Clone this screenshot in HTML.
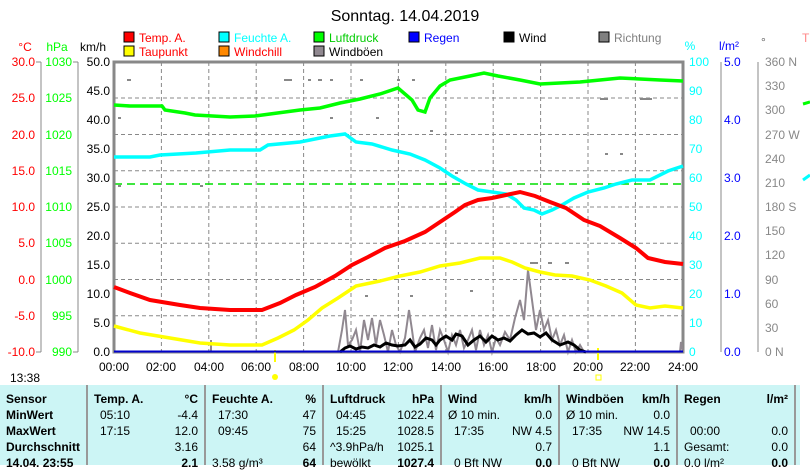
<!DOCTYPE html>
<html><head><meta charset="utf-8"><style>
body{margin:0;background:#fff;width:810px;height:465px;overflow:hidden;font-family:"Liberation Sans",sans-serif}
svg{position:absolute;left:0;top:0}
.tb{position:absolute;left:0;top:385px;width:800px;height:80px;background:#ccf5f5}
.c{position:absolute;top:0;height:80px;border-right:2px solid #999;font-size:12px}
.r{position:absolute;left:0;right:0;height:16px;line-height:16px}
.l{position:absolute;left:6px}.v{position:absolute;right:6px}
b{font-weight:bold}
</style></head><body>
<svg width="810" height="465" font-family="Liberation Sans, sans-serif" font-size="12">
<text x="405" y="21" font-size="16" text-anchor="middle">Sonntag. 14.04.2019</text>
<g font-size="12">
<rect x="124" y="32" width="10" height="10" fill="#f00" stroke="#000"/><text x="139" y="42" fill="#f00">Temp. A.</text>
<rect x="124" y="46" width="10" height="10" fill="#ff0" stroke="#000"/><text x="139" y="56" fill="#f00">Taupunkt</text>
<rect x="219" y="32" width="10" height="10" fill="#0ff" stroke="#000"/><text x="234" y="42" fill="#0ff">Feuchte A.</text>
<rect x="219" y="46" width="10" height="10" fill="#f80" stroke="#000"/><text x="234" y="56" fill="#f00">Windchill</text>
<rect x="314" y="32" width="10" height="10" fill="#0f0" stroke="#000"/><text x="329" y="42" fill="#0c0">Luftdruck</text>
<rect x="314" y="46" width="10" height="10" fill="#908890" stroke="#000"/><text x="329" y="56">Windböen</text>
<rect x="409" y="32" width="10" height="10" fill="#00f" stroke="#000"/><text x="424" y="42" fill="#00f">Regen</text>
<rect x="504" y="32" width="10" height="10" fill="#000" stroke="#000"/><text x="519" y="42">Wind</text>
<rect x="599" y="32" width="10" height="10" fill="#808080" stroke="#000"/><text x="614" y="42" fill="#808080">Richtung</text>
<text x="25" y="51" fill="#f00" text-anchor="middle">°C</text>
<text x="57" y="51" fill="#0f0" text-anchor="middle">hPa</text>
<text x="93" y="51" text-anchor="middle">km/h</text>
<text x="690" y="50" fill="#0ff" text-anchor="middle">%</text>
<text x="729" y="50" fill="#00f" text-anchor="middle">l/m²</text>
<text x="761" y="46" fill="#666">°</text>
</g>
<!-- grid -->
<g stroke="#888" stroke-dasharray="4,3" stroke-width="1">
<line x1="114" y1="98" x2="683" y2="98"/><line x1="114" y1="134.5" x2="683" y2="134.5"/><line x1="114" y1="170.75" x2="683" y2="170.75"/><line x1="114" y1="207" x2="683" y2="207"/><line x1="114" y1="243.25" x2="683" y2="243.25"/><line x1="114" y1="279.5" x2="683" y2="279.5"/><line x1="114" y1="315.75" x2="683" y2="315.75"/>
<line x1="161.4" y1="62" x2="161.4" y2="352"/><line x1="208.8" y1="62" x2="208.8" y2="352"/><line x1="256.2" y1="62" x2="256.2" y2="352"/><line x1="303.6" y1="62" x2="303.6" y2="352"/><line x1="351" y1="62" x2="351" y2="352"/><line x1="398.4" y1="62" x2="398.4" y2="352"/><line x1="445.8" y1="62" x2="445.8" y2="352"/><line x1="493.2" y1="62" x2="493.2" y2="352"/><line x1="540.6" y1="62" x2="540.6" y2="352"/><line x1="588" y1="62" x2="588" y2="352"/><line x1="635.4" y1="62" x2="635.4" y2="352"/>
</g>
<!-- direction dots -->
<g fill="#888">
<rect x="127" y="79" width="4" height="2"/><rect x="284" y="79" width="8" height="2"/><rect x="308" y="79" width="3" height="2"/><rect x="318" y="79" width="4" height="2"/><rect x="330" y="79" width="3" height="2"/><rect x="360" y="79" width="3" height="2"/><rect x="397" y="79" width="3" height="2"/><rect x="412" y="79" width="3" height="2"/><rect x="600" y="98" width="8" height="2"/><rect x="640" y="98" width="12" height="2"/><rect x="118" y="117" width="3" height="2"/><rect x="330" y="117" width="3" height="2"/><rect x="376" y="117" width="3" height="2"/><rect x="430" y="130" width="3" height="2"/><rect x="605" y="153" width="3" height="2"/><rect x="620" y="153" width="3" height="2"/><rect x="118" y="185" width="3" height="2"/><rect x="200" y="185" width="3" height="2"/><rect x="455" y="172" width="3" height="2"/><rect x="530" y="262" width="8" height="2"/><rect x="548" y="262" width="4" height="2"/><rect x="565" y="262" width="4" height="2"/><rect x="365" y="295" width="3" height="2"/><rect x="410" y="295" width="3" height="2"/><rect x="470" y="290" width="3" height="2"/>
</g>
<line x1="114" y1="184" x2="683" y2="184" stroke="#0d0" stroke-dasharray="8,5" stroke-width="1.5"/>
<rect x="114" y="62" width="569" height="290" fill="none" stroke="#888" stroke-width="3"/>
<!-- axes left -->
<g font-size="12" text-anchor="end">
<line x1="41" y1="62" x2="41" y2="352" stroke="#888"/><line x1="78" y1="62" x2="78" y2="352" stroke="#888"/>
<g fill="#f00"><text x="35" y="66">30.0</text><text x="35" y="102">25.0</text><text x="35" y="139">20.0</text><text x="35" y="175">15.0</text><text x="35" y="211">10.0</text><text x="35" y="247">5.0</text><text x="35" y="284">0.0</text><text x="35" y="320">-5.0</text><text x="35" y="356">-10.0</text></g>
<g fill="#0f0"><text x="72" y="66">1030</text><text x="72" y="102">1025</text><text x="72" y="139">1020</text><text x="72" y="175">1015</text><text x="72" y="211">1010</text><text x="72" y="247">1005</text><text x="72" y="284">1000</text><text x="72" y="320">995</text><text x="72" y="356">990</text></g>
<g><text x="110" y="66">50.0</text><text x="110" y="95">45.0</text><text x="110" y="124">40.0</text><text x="110" y="153">35.0</text><text x="110" y="182">30.0</text><text x="110" y="211">25.0</text><text x="110" y="240">20.0</text><text x="110" y="269">15.0</text><text x="110" y="298">10.0</text><text x="110" y="327">5.0</text><text x="110" y="356">0.0</text></g>
</g>
<g stroke="#888"><line x1="36" y1="62" x2="41" y2="62"/><line x1="36" y1="352" x2="41" y2="352"/><line x1="73" y1="62" x2="78" y2="62"/><line x1="73" y1="352" x2="78" y2="352"/></g>
<!-- axes right -->
<line x1="721" y1="62" x2="721" y2="352" stroke="#888"/><line x1="758" y1="62" x2="758" y2="352" stroke="#888"/>
<g font-size="12" fill="#0ff"><text x="689" y="66">100</text><text x="689" y="95">90</text><text x="689" y="124">80</text><text x="689" y="153">70</text><text x="689" y="182">60</text><text x="689" y="211">50</text><text x="689" y="240">40</text><text x="689" y="269">30</text><text x="689" y="298">20</text><text x="689" y="327">10</text><text x="689" y="356">0</text></g>
<g font-size="12" fill="#00f"><text x="724" y="66">5.0</text><text x="724" y="124">4.0</text><text x="724" y="182">3.0</text><text x="724" y="240">2.0</text><text x="724" y="298">1.0</text><text x="724" y="356">0.0</text></g>
<g font-size="12" fill="#888"><text x="765" y="66">360 N</text><text x="765" y="90">330</text><text x="765" y="114">300</text><text x="765" y="139">270 W</text><text x="765" y="163">240</text><text x="765" y="187">210</text><text x="765" y="211">180 S</text><text x="765" y="235">150</text><text x="765" y="259">120</text><text x="765" y="284">90</text><text x="765" y="308">60</text><text x="765" y="332">30</text><text x="765" y="356">0 N</text></g>
<text x="802" y="42" fill="#f88" font-size="12">T</text>
<polyline points="803,104 810,102" stroke="#0f0" stroke-width="3" fill="none"/>
<polyline points="803,180 810,175" stroke="#0ff" stroke-width="3" fill="none"/>
<!-- x labels -->
<g font-size="12" text-anchor="middle"><text x="114" y="371">00:00</text><text x="161" y="371">02:00</text><text x="209" y="371">04:00</text><text x="256" y="371">06:00</text><text x="304" y="371">08:00</text><text x="351" y="371">10:00</text><text x="398" y="371">12:00</text><text x="446" y="371">14:00</text><text x="493" y="371">16:00</text><text x="541" y="371">18:00</text><text x="588" y="371">20:00</text><text x="635" y="371">22:00</text><text x="683" y="371">24:00</text></g>
<text x="10" y="382" font-size="12">13:38</text>
<circle cx="275" cy="377" r="3" fill="#ff0"/><line x1="275" y1="350" x2="275" y2="362" stroke="#ff0" stroke-width="2"/>
<rect x="596" y="375" width="5" height="5" fill="none" stroke="#ff0"/><line x1="598" y1="348" x2="598" y2="360" stroke="#ff0" stroke-width="2"/>
<!-- gusts -->
<polyline fill="none" stroke="#908890" stroke-width="2" points="338,352 342,330 345,310 348,345 352,340 356,330 360,352 364,320 368,340 372,318 376,345 380,320 384,335 388,352 392,330 396,345 400,352 405,338 409,310 412,330 415,352 420,338 424,330 428,348 432,325 436,350 440,330 444,340 448,352 452,335 456,345 460,330 464,348 468,340 472,330 476,350 480,330 484,345 488,335 492,352 496,338 500,345 505,332 510,340 515,318 520,300 524,320 528,270 532,300 536,330 540,310 544,330 548,320 552,340 556,330 560,345 564,335 568,352 572,340 576,352 580,345 584,352 680,352 681,342 683,352"/>
<line x1="211" y1="352" x2="211" y2="340" stroke="#908890" stroke-width="2"/>
<!-- wind -->
<polyline fill="none" stroke="#000" stroke-width="3" points="340,352 345,348 350,346 356,349 362,347 368,348 374,345 380,347 386,343 392,345 398,346 405,345 410,340 415,347 420,344 426,338 432,340 436,345 440,340 446,336 452,340 456,334 462,336 468,345 474,340 480,336 486,342 492,336 498,340 504,338 510,341 516,335 522,330 528,334 534,333 540,337 546,333 552,340 560,345 568,342 574,345 580,350 586,352"/>
<line x1="114" y1="351.5" x2="683" y2="351.5" stroke="#00c" stroke-width="2"/>
<!-- pressure -->
<polyline fill="none" stroke="#0f0" stroke-width="3.5" points="114,105 130,106 162,106 165,110 185,113 195,115 230,117 255,116 270,114 300,110 320,108 340,103 360,99 380,94 398,88 412,100 418,110 425,112 430,98 440,86 450,80 470,76 484,73 498,76 520,80 540,84 560,83 580,82 600,80 620,78 640,79 660,80 683,81"/>
<!-- humidity -->
<polyline fill="none" stroke="#0ff" stroke-width="3.5" points="114,157 150,157 160,155 196,153 230,150 260,150 268,145 300,142 330,136 345,134 356,142 372,144 392,150 410,154 425,160 440,168 452,176 466,184 478,190 492,192 506,194 516,200 524,208 534,210 542,214 552,210 562,205 574,198 588,192 604,188 616,184 632,180 650,180 668,171 683,166"/>
<!-- temp -->
<polyline fill="none" stroke="#f00" stroke-width="4" points="114,287 130,293 150,300 180,305 200,308 230,310 262,310 280,303 296,295 315,287 335,276 352,265 368,257 385,248 405,241 425,232 440,222 455,212 465,205 478,200 492,198 506,195 520,192 535,196 550,202 566,208 584,220 600,226 620,238 636,248 648,258 665,262 683,264"/>
<!-- dew -->
<polyline fill="none" stroke="#ff0" stroke-width="3.5" points="114,326 140,333 170,338 200,343 230,345 262,345 278,338 294,330 308,320 322,308 338,298 356,286 380,281 400,276 420,272 440,266 460,263 480,258 500,258 512,262 525,268 540,272 555,275 572,276 590,280 606,286 622,293 636,305 650,308 665,306 683,308"/>
</svg>
<div class="tb">
<div class="c" style="left:0;width:86px;font-weight:bold">
<div class="r" style="top:6px"><span class="l">Sensor</span></div>
<div class="r" style="top:22px"><span class="l">MinWert</span></div>
<div class="r" style="top:38px"><span class="l">MaxWert</span></div>
<div class="r" style="top:54px"><span class="l">Durchschnitt</span></div>
<div class="r" style="top:70px"><span class="l">14.04. 23:55</span></div></div>
<div class="c" style="left:88px;width:116px">
<div class="r" style="top:6px;font-weight:bold"><span class="l">Temp. A.</span><span class="v">°C</span></div>
<div class="r" style="top:22px"><span class="l" style="left:12px">05:10</span><span class="v">-4.4</span></div>
<div class="r" style="top:38px"><span class="l" style="left:12px">17:15</span><span class="v">12.0</span></div>
<div class="r" style="top:54px"><span class="v">3.16</span></div>
<div class="r" style="top:70px"><span class="v"><b>2.1</b></span></div></div>
<div class="c" style="left:206px;width:116px">
<div class="r" style="top:6px;font-weight:bold"><span class="l">Feuchte A.</span><span class="v">%</span></div>
<div class="r" style="top:22px"><span class="l" style="left:12px">17:30</span><span class="v">47</span></div>
<div class="r" style="top:38px"><span class="l" style="left:12px">09:45</span><span class="v">75</span></div>
<div class="r" style="top:54px"><span class="v">64</span></div>
<div class="r" style="top:70px"><span class="l">3.58 g/m³</span><span class="v"><b>64</b></span></div></div>
<div class="c" style="left:324px;width:116px">
<div class="r" style="top:6px;font-weight:bold"><span class="l">Luftdruck</span><span class="v">hPa</span></div>
<div class="r" style="top:22px"><span class="l" style="left:12px">04:45</span><span class="v">1022.4</span></div>
<div class="r" style="top:38px"><span class="l" style="left:12px">15:25</span><span class="v">1028.5</span></div>
<div class="r" style="top:54px"><span class="l">^3.9hPa/h</span><span class="v">1025.1</span></div>
<div class="r" style="top:70px"><span class="l">bewölkt</span><span class="v"><b>1027.4</b></span></div></div>
<div class="c" style="left:442px;width:116px">
<div class="r" style="top:6px;font-weight:bold"><span class="l">Wind</span><span class="v">km/h</span></div>
<div class="r" style="top:22px"><span class="l">Ø 10 min.</span><span class="v">0.0</span></div>
<div class="r" style="top:38px"><span class="l" style="left:12px">17:35</span><span class="v">NW 4.5</span></div>
<div class="r" style="top:54px"><span class="v">0.7</span></div>
<div class="r" style="top:70px"><span class="l" style="left:12px">0 Bft NW</span><span class="v"><b>0.0</b></span></div></div>
<div class="c" style="left:560px;width:116px">
<div class="r" style="top:6px;font-weight:bold"><span class="l">Windböen</span><span class="v">km/h</span></div>
<div class="r" style="top:22px"><span class="l">Ø 10 min.</span><span class="v">0.0</span></div>
<div class="r" style="top:38px"><span class="l" style="left:12px">17:35</span><span class="v">NW 14.5</span></div>
<div class="r" style="top:54px"><span class="v">1.1</span></div>
<div class="r" style="top:70px"><span class="l" style="left:12px">0 Bft NW</span><span class="v"><b>0.0</b></span></div></div>
<div class="c" style="left:678px;width:116px">
<div class="r" style="top:6px;font-weight:bold"><span class="l">Regen</span><span class="v">l/m²</span></div>
<div class="r" style="top:38px"><span class="l" style="left:12px">00:00</span><span class="v">0.0</span></div>
<div class="r" style="top:54px"><span class="l">Gesamt:</span><span class="v">0.0</span></div>
<div class="r" style="top:70px"><span class="l">0.0 l/m²</span><span class="v"><b>0.0</b></span></div></div>
</div>
</body></html>
